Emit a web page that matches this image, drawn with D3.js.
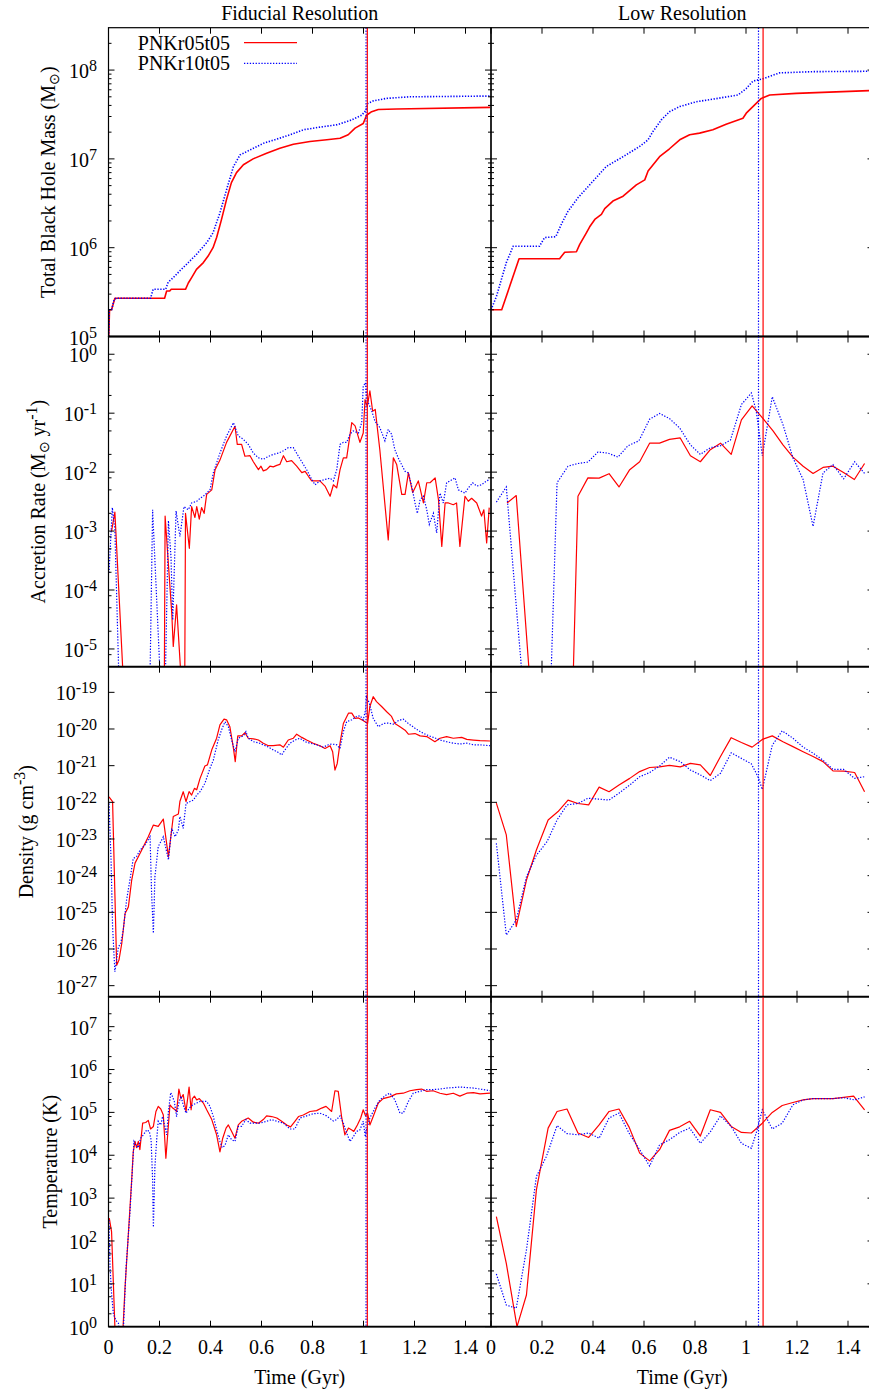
<!DOCTYPE html>
<html><head><meta charset="utf-8">
<script src="https://cdn.jsdelivr.net/npm/d3@7"></script>
<style>
body{margin:0;background:#fff}
svg{display:block}
text{font-family:"Liberation Serif","Times New Roman",Times,serif;fill:#000}
</style>
</head><body>
<svg id="chart" width="869" height="1395"></svg>
<script>
// ---------------- DATA ----------------
const columnTitles = ["Fiducial Resolution", "Low Resolution"];
const seriesNames = ["PNKr05t05", "PNKr10t05"];
const xTicks = [0, 0.2, 0.4, 0.6, 0.8, 1.0, 1.2, 1.4];
const xTickLabels = ["0", "0.2", "0.4", "0.6", "0.8", "1", "1.2", "1.4"];
const xLabel = "Time (Gyr)";

const massTicks = [1e5, 1e6, 1e7, 1e8];
const accTicks = [1e-5, 1e-4, 1e-3, 1e-2, 1e-1, 1e0];
const rhoTicks = [1e-27, 1e-26, 1e-25, 1e-24, 1e-23, 1e-22, 1e-21, 1e-20, 1e-19];
const tempTicks = [1e0, 1e1, 1e2, 1e3, 1e4, 1e5, 1e6, 1e7];

// merger times (vertical lines)
const fidMergerRed = 1.015, fidMergerBlue = 1.010;
const lowMergerRed = 1.067, lowMergerBlue = 1.049;

// Total black hole mass
const fidMassRed = [[0.001,1e5],[0.004,2.0e5],[0.012,2.0e5],[0.025,2.7e5],[0.22,2.7e5],[0.228,3.25e5],[0.24,3.25e5],[0.246,3.4e5],[0.302,3.4e5],[0.313,4.0e5],[0.326,4.6e5],[0.345,5.7e5],[0.372,6.8e5],[0.39,8.0e5],[0.41,1.0e6],[0.424,1.3e6],[0.443,2.07e6],[0.463,3.5e6],[0.482,5.4e6],[0.502,7.0e6],[0.529,8.6e6],[0.567,1.0e7],[0.62,1.16e7],[0.672,1.32e7],[0.725,1.46e7],[0.79,1.57e7],[0.856,1.64e7],[0.908,1.71e7],[0.94,1.87e7],[0.967,2.22e7],[0.999,2.5e7],[1.012,3.1e7],[1.032,3.4e7],[1.058,3.6e7],[1.13,3.65e7],[1.496,3.8e7]];
const fidMassBlue = [[0.001,1e5],[0.003,2.0e5],[0.012,2.0e5],[0.022,2.6e5],[0.03,2.7e5],[0.165,2.7e5],[0.175,3.4e5],[0.224,3.4e5],[0.234,4.1e5],[0.254,4.6e5],[0.28,5.5e5],[0.306,6.5e5],[0.345,8.4e5],[0.385,1.14e6],[0.41,1.47e6],[0.437,2.47e6],[0.463,4.5e6],[0.49,8.2e6],[0.516,1.11e7],[0.555,1.26e7],[0.608,1.5e7],[0.66,1.67e7],[0.712,1.87e7],[0.765,2.13e7],[0.83,2.28e7],[0.895,2.42e7],[0.947,2.7e7],[0.993,3.1e7],[1.01,3.55e7],[1.016,4.2e7],[1.039,4.5e7],[1.09,4.8e7],[1.18,5.0e7],[1.496,5.1e7]];
const lowMassRed = [[0,2e5],[0.042,2e5],[0.11,7.5e5],[0.269,7.5e5],[0.289,8.9e5],[0.335,9e5],[0.348,1.09e6],[0.374,1.47e6],[0.387,1.72e6],[0.407,2.08e6],[0.433,2.37e6],[0.446,2.75e6],[0.478,3.35e6],[0.518,3.8e6],[0.57,5.1e6],[0.603,5.8e6],[0.616,7.3e6],[0.661,1.06e7],[0.7,1.3e7],[0.74,1.64e7],[0.779,1.87e7],[0.818,1.95e7],[0.87,2.13e7],[0.922,2.46e7],[0.988,2.87e7],[1.001,3.27e7],[1.027,3.88e7],[1.06,4.8e7],[1.093,5.25e7],[1.197,5.47e7],[1.5,5.9e7]];
const lowMassBlue = [[0,2e5],[0.021,2.8e5],[0.06,6.8e5],[0.087,1.04e6],[0.19,1.04e6],[0.21,1.3e6],[0.254,1.33e6],[0.277,1.87e6],[0.302,2.57e6],[0.341,3.65e6],[0.387,5.1e6],[0.452,8.2e6],[0.518,1.06e7],[0.583,1.38e7],[0.616,1.64e7],[0.635,2.03e7],[0.668,2.75e7],[0.7,3.4e7],[0.74,3.88e7],[0.805,4.4e7],[0.87,4.7e7],[0.969,5.25e7],[1.001,6.2e7],[1.027,7.5e7],[1.067,8.0e7],[1.132,9.3e7],[1.263,9.6e7],[1.5,9.7e7]];

// Accretion rate
const fidAccRed = [[0.012,1.0e-3],[0.025,2.1e-3],[0.058,3e-6],[0.219,3e-6],[0.222,1.8e-3],[0.248,4.1e-5],[0.254,1.1e-5],[0.267,5.6e-5],[0.285,3e-6],[0.299,3e-6],[0.302,2.0e-3],[0.317,5.1e-4],[0.326,2.6e-3],[0.339,1.7e-3],[0.346,2.6e-3],[0.356,1.6e-3],[0.365,2.5e-3],[0.375,2.0e-3],[0.385,4.2e-3],[0.405,5.0e-3],[0.418,1.1e-2],[0.437,1.6e-2],[0.463,3.2e-2],[0.496,6.0e-2],[0.505,2.95e-2],[0.522,2.95e-2],[0.535,1.86e-2],[0.555,1.9e-2],[0.568,1.5e-2],[0.588,1.1e-2],[0.598,1.26e-2],[0.607,1.05e-2],[0.62,1.1e-2],[0.633,1.26e-2],[0.646,1.23e-2],[0.66,1.3e-2],[0.672,1.35e-2],[0.686,1.9e-2],[0.699,1.5e-2],[0.718,1.57e-2],[0.738,1.26e-2],[0.758,9.8e-3],[0.771,1.03e-2],[0.784,8.5e-3],[0.797,7.1e-3],[0.816,7.1e-3],[0.829,7.1e-3],[0.849,5.8e-3],[0.869,3.9e-3],[0.882,6.1e-3],[0.895,5.4e-3],[0.908,1.1e-2],[0.921,1.75e-2],[0.934,1.75e-2],[0.954,6.9e-2],[0.967,6.1e-2],[0.986,3.2e-2],[0.999,4.6e-2],[1.006,1.7e-1],[1.015,1.3e-1],[1.025,2.4e-1],[1.036,1.08e-1],[1.046,1.16e-1],[1.064,2.4e-2],[1.097,7.1e-4],[1.117,1.75e-2],[1.13,1.35e-2],[1.15,4.2e-3],[1.163,4.2e-3],[1.176,9.7e-3],[1.193,4.5e-3],[1.215,7.1e-3],[1.235,3.0e-3],[1.248,6.6e-3],[1.261,6.6e-3],[1.281,8.0e-3],[1.294,3.4e-3],[1.307,5.5e-4],[1.32,3.0e-3],[1.333,3.0e-3],[1.352,2.8e-3],[1.365,3.0e-3],[1.378,5.5e-4],[1.398,3.9e-3],[1.411,3.2e-3],[1.424,3.6e-3],[1.444,3.0e-3],[1.463,1.8e-3],[1.472,2.3e-3],[1.483,6.3e-4],[1.493,2.5e-3]];
const fidAccBlue = [[0.002,1.95e-4],[0.015,2.5e-3],[0.025,1.05e-3],[0.042,2e-6],[0.162,2e-6],[0.173,2.3e-3],[0.205,2e-6],[0.222,2e-6],[0.235,1.5e-3],[0.245,3.7e-4],[0.252,3.1e-5],[0.265,2.2e-3],[0.28,8.1e-4],[0.296,2.6e-3],[0.313,2.3e-3],[0.326,3.0e-3],[0.346,3.2e-3],[0.359,3.6e-3],[0.372,3.9e-3],[0.385,4.4e-3],[0.398,5.0e-3],[0.411,9.7e-3],[0.437,2.1e-2],[0.463,4.1e-2],[0.49,6.9e-2],[0.509,4.1e-2],[0.529,3.6e-2],[0.548,2.95e-2],[0.568,2.1e-2],[0.588,1.75e-2],[0.607,1.65e-2],[0.627,1.85e-2],[0.646,2.0e-2],[0.666,2.1e-2],[0.686,2.3e-2],[0.705,2.6e-2],[0.725,2.6e-2],[0.745,1.85e-2],[0.758,1.5e-2],[0.777,1.1e-2],[0.797,7.5e-3],[0.81,6.1e-3],[0.829,7.1e-3],[0.849,7.5e-3],[0.869,7.9e-3],[0.882,7.1e-3],[0.895,1.1e-2],[0.908,2.95e-2],[0.921,3.2e-2],[0.934,3.2e-2],[0.947,4.4e-2],[0.96,5.0e-2],[0.98,4.6e-2],[0.993,6.9e-2],[0.999,2.9e-1],[1.008,3.3e-1],[1.012,1.95e-1],[1.019,1.5e-1],[1.032,1.1e-1],[1.045,7.3e-2],[1.064,5.7e-2],[1.084,3.4e-2],[1.097,5.3e-2],[1.11,4.4e-2],[1.123,2.4e-2],[1.136,1.75e-2],[1.149,1.35e-2],[1.163,1.03e-2],[1.176,9.7e-3],[1.189,5.8e-3],[1.202,3.0e-3],[1.211,2.0e-3],[1.222,3.4e-3],[1.235,3.9e-3],[1.248,2.3e-3],[1.258,1.3e-3],[1.274,2.0e-3],[1.287,9.3e-4],[1.3,4.4e-3],[1.313,3.0e-3],[1.326,6.6e-3],[1.339,7.1e-3],[1.359,8.0e-3],[1.372,5.0e-3],[1.385,4.7e-3],[1.398,4.4e-3],[1.411,5.4e-3],[1.428,6.6e-3],[1.444,5.8e-3],[1.463,6.1e-3],[1.483,7.1e-3],[1.496,7.5e-3]];
const lowAccRed = [[0.063,3.0e-3],[0.099,4.0e-3],[0.152,3e-6],[0.322,3e-6],[0.341,3.9e-3],[0.38,8.0e-3],[0.424,7.9e-3],[0.463,9.4e-3],[0.502,5.6e-3],[0.544,1.1e-2],[0.583,1.5e-2],[0.622,3.1e-2],[0.661,3.1e-2],[0.7,3.6e-2],[0.742,3.8e-2],[0.782,1.9e-2],[0.821,1.5e-2],[0.86,2.4e-2],[0.9,3.1e-2],[0.942,2.0e-2],[0.982,7.7e-2],[1.024,1.33e-1],[1.067,8.1e-2],[1.106,5.0e-2],[1.145,2.9e-2],[1.184,1.8e-2],[1.224,1.26e-2],[1.263,9.5e-3],[1.302,1.2e-2],[1.341,1.26e-2],[1.384,9.8e-3],[1.425,7.5e-3],[1.465,1.4e-2]];
const lowAccBlue = [[0.021,3.1e-3],[0.06,5.6e-3],[0.122,3.5e-6],[0.235,3e-6],[0.259,6.6e-3],[0.302,1.26e-2],[0.341,1.4e-2],[0.38,1.48e-2],[0.42,2.2e-2],[0.459,2.1e-2],[0.498,1.8e-2],[0.537,2.8e-2],[0.58,3.4e-2],[0.622,7.9e-2],[0.661,9.9e-2],[0.7,8.1e-2],[0.74,5.6e-2],[0.782,2.9e-2],[0.821,2.0e-2],[0.86,2.6e-2],[0.9,2.8e-2],[0.939,3.5e-2],[0.982,1.4e-1],[1.021,2.2e-1],[1.04,1.1e-1],[1.064,1.9e-2],[1.103,1.9e-1],[1.145,6.4e-2],[1.184,1.75e-2],[1.224,7.5e-3],[1.263,1.2e-3],[1.302,9.7e-3],[1.341,1.34e-2],[1.383,7.7e-3],[1.426,1.5e-2],[1.465,9.5e-3]];

// Density
const fidRhoRed = [[0.002,1.41e-22],[0.016,1.05e-22],[0.032,3.6e-27],[0.041,5.0e-27],[0.052,1.41e-26],[0.065,9.3e-26],[0.078,1.41e-25],[0.091,7.6e-25],[0.104,2.2e-24],[0.117,3.3e-24],[0.137,6.2e-24],[0.156,1.15e-23],[0.176,2.4e-23],[0.195,2.2e-23],[0.215,3.5e-23],[0.235,3.3e-24],[0.254,4.1e-23],[0.274,4.8e-23],[0.28,1.05e-22],[0.293,1.95e-22],[0.304,1.05e-22],[0.316,1.95e-22],[0.326,1.58e-22],[0.337,2.4e-22],[0.346,2.2e-22],[0.359,4.5e-22],[0.378,9.8e-22],[0.388,1.05e-21],[0.405,2.7e-21],[0.424,5.6e-21],[0.437,1.29e-20],[0.453,1.86e-20],[0.463,1.78e-20],[0.476,1.15e-20],[0.49,2.95e-21],[0.497,1.29e-21],[0.507,6.5e-21],[0.522,6.5e-21],[0.535,7.9e-21],[0.548,5.6e-21],[0.568,5.4e-21],[0.588,5.0e-21],[0.607,4.1e-21],[0.627,3.5e-21],[0.646,3.5e-21],[0.672,3.7e-21],[0.686,3.2e-21],[0.705,5.0e-21],[0.725,5.6e-21],[0.738,7.2e-21],[0.758,5.9e-21],[0.777,5.0e-21],[0.803,4.1e-21],[0.829,3.5e-21],[0.849,2.95e-21],[0.869,3.5e-21],[0.879,2.4e-21],[0.888,7.6e-22],[0.897,1.15e-21],[0.908,4.1e-21],[0.921,1.41e-20],[0.941,2.7e-20],[0.954,2.7e-20],[0.967,1.95e-20],[0.98,2.0e-20],[0.993,1.78e-20],[1.006,1.58e-20],[1.016,1.41e-20],[1.025,4.1e-20],[1.038,7.6e-20],[1.051,5.6e-20],[1.071,4.1e-20],[1.091,2.95e-20],[1.11,2.2e-20],[1.123,1.41e-20],[1.143,1.15e-20],[1.163,9.3e-21],[1.176,7.2e-21],[1.202,7.5e-21],[1.222,6.5e-21],[1.248,6.2e-21],[1.28,4.5e-21],[1.3,5.6e-21],[1.326,6.2e-21],[1.352,5.6e-21],[1.385,5.9e-21],[1.405,5.2e-21],[1.431,5.0e-21],[1.457,4.8e-21],[1.496,4.7e-21]];
const fidRhoBlue = [[0.002,9.3e-23],[0.01,2.7e-24],[0.016,4.1e-26],[0.025,2.4e-27],[0.039,1.15e-26],[0.048,1.41e-26],[0.058,3.3e-26],[0.071,2.2e-25],[0.084,7.6e-25],[0.097,2.95e-24],[0.11,3.3e-24],[0.124,5.0e-24],[0.143,6.9e-24],[0.163,1.15e-23],[0.169,3.3e-25],[0.176,2.7e-26],[0.182,9.3e-25],[0.195,6.2e-24],[0.215,1.15e-23],[0.235,2.7e-24],[0.248,1.95e-23],[0.261,1.15e-23],[0.274,1.78e-23],[0.28,4.1e-23],[0.293,1.95e-23],[0.304,9.3e-23],[0.32,1.05e-22],[0.333,1.15e-22],[0.346,1.58e-22],[0.359,1.95e-22],[0.378,3.3e-22],[0.398,8.5e-22],[0.411,1.41e-21],[0.43,5.0e-21],[0.443,9.3e-21],[0.457,1.58e-20],[0.47,1.15e-20],[0.483,5.0e-21],[0.496,2.4e-21],[0.509,5.6e-21],[0.529,6.5e-21],[0.539,8.5e-21],[0.548,5.6e-21],[0.568,4.5e-21],[0.588,4.2e-21],[0.607,3.7e-21],[0.627,3.2e-21],[0.646,2.7e-21],[0.666,2.3e-21],[0.679,1.95e-21],[0.692,2.7e-21],[0.712,4.1e-21],[0.731,5.0e-21],[0.751,5.6e-21],[0.771,4.5e-21],[0.79,4.1e-21],[0.816,3.7e-21],[0.842,3.2e-21],[0.862,3.7e-21],[0.875,3.9e-21],[0.895,3.7e-21],[0.908,2.95e-21],[0.921,8.5e-21],[0.934,1.58e-20],[0.954,1.78e-20],[0.973,2.2e-20],[0.986,2.3e-20],[0.999,1.78e-20],[1.008,3.3e-20],[1.012,7.6e-20],[1.023,5.0e-20],[1.038,1.95e-20],[1.058,1.15e-20],[1.078,1.41e-20],[1.097,1.45e-20],[1.117,1.35e-20],[1.137,1.7e-20],[1.156,1.86e-20],[1.176,1.41e-20],[1.202,1.05e-20],[1.222,8.5e-21],[1.248,6.9e-21],[1.274,5.9e-21],[1.3,5.0e-21],[1.326,4.5e-21],[1.352,4.1e-21],[1.378,3.9e-21],[1.405,4.1e-21],[1.431,3.7e-21],[1.457,3.7e-21],[1.496,3.5e-21]];
const lowRhoRed = [[0.021,9.5e-23],[0.06,1.29e-23],[0.099,4.1e-26],[0.139,7.6e-25],[0.178,5.0e-24],[0.224,3.3e-23],[0.263,5.6e-23],[0.302,1.15e-22],[0.341,9.3e-23],[0.383,8.5e-23],[0.424,2.6e-22],[0.463,1.95e-22],[0.502,2.95e-22],[0.544,4.5e-22],[0.583,6.9e-22],[0.622,8.9e-22],[0.661,9.3e-22],[0.7,1.02e-21],[0.742,9.3e-22],[0.782,1.15e-21],[0.821,1.05e-21],[0.86,5.4e-22],[0.9,1.78e-21],[0.942,5.8e-21],[0.982,4.3e-21],[1.024,3.2e-21],[1.064,5.2e-21],[1.103,6.5e-21],[1.145,4.5e-21],[1.184,3.3e-21],[1.224,2.4e-21],[1.263,1.78e-21],[1.302,1.29e-21],[1.341,7.2e-22],[1.383,7.1e-22],[1.426,6.5e-22],[1.465,1.95e-22]];
const lowRhoBlue = [[0.021,7.6e-24],[0.06,2.4e-26],[0.099,6.2e-26],[0.139,9.3e-25],[0.178,3.6e-24],[0.22,8.5e-24],[0.259,3.3e-23],[0.298,8.5e-23],[0.341,9.3e-23],[0.38,1.29e-22],[0.42,1.23e-22],[0.463,1.15e-22],[0.502,1.78e-22],[0.544,2.95e-22],[0.583,5.0e-22],[0.622,6.5e-22],[0.661,9.8e-22],[0.7,1.7e-21],[0.742,1.29e-21],[0.782,7.6e-22],[0.821,5.6e-22],[0.86,3.9e-22],[0.9,6.2e-22],[0.942,2.24e-21],[0.982,1.58e-21],[1.021,1.12e-21],[1.047,5.0e-22],[1.064,2.24e-22],[1.103,3.6e-21],[1.142,8.9e-21],[1.184,5.6e-21],[1.224,3.2e-21],[1.263,2.2e-21],[1.302,1.41e-21],[1.341,7.9e-22],[1.383,7.9e-22],[1.426,4.5e-22],[1.465,5.0e-22]];

// Temperature
const fidTempRed = [[0.003,340],[0.012,166],[0.03,0.14],[0.05,0.14],[0.065,8.5],[0.078,150],[0.091,2700],[0.097,1.2e4],[0.104,2.1e4],[0.11,1.5e4],[0.117,2.1e4],[0.123,1.35e4],[0.134,5.6e4],[0.146,5.8e4],[0.156,6.5e4],[0.165,4.1e4],[0.176,4.7e4],[0.186,1.05e5],[0.195,1.38e5],[0.205,1.2e5],[0.215,8.7e4],[0.225,8.5e3],[0.235,5.1e4],[0.241,1.5e5],[0.252,1.26e5],[0.261,1.15e5],[0.267,1.05e5],[0.276,3.5e5],[0.284,2.1e5],[0.293,2.6e5],[0.304,1.05e5],[0.316,3.9e5],[0.324,1.15e5],[0.329,2.1e5],[0.337,2.4e5],[0.346,1.95e5],[0.356,2.1e5],[0.372,1.65e5],[0.385,1.15e5],[0.405,6.8e4],[0.424,3.0e4],[0.437,1.2e4],[0.448,2.5e4],[0.461,4.3e4],[0.47,5.1e4],[0.483,3.6e4],[0.496,2.5e4],[0.509,5.1e4],[0.522,6.2e4],[0.538,6.9e4],[0.548,7.4e4],[0.568,5.9e4],[0.588,5.6e4],[0.607,6.8e4],[0.62,8.3e4],[0.64,8.0e4],[0.66,7.4e4],[0.679,6.2e4],[0.699,5.1e4],[0.714,4.6e4],[0.731,6.2e4],[0.745,8.0e4],[0.764,8.7e4],[0.79,1.05e5],[0.816,1.1e5],[0.836,1.26e5],[0.853,1.38e5],[0.875,1.05e5],[0.888,3.2e5],[0.901,3.1e5],[0.914,8.0e4],[0.927,3.0e4],[0.941,4.3e4],[0.954,3.9e4],[0.962,3.6e4],[0.976,5.1e4],[0.989,7.4e4],[0.999,1.15e5],[1.008,8.3e4],[1.016,9.6e4],[1.025,5.1e4],[1.038,8.0e4],[1.058,1.65e5],[1.077,2.1e5],[1.103,2.3e5],[1.129,2.7e5],[1.156,2.8e5],[1.182,3.2e5],[1.208,3.4e5],[1.228,3.5e5],[1.247,3.1e5],[1.273,3.2e5],[1.3,2.8e5],[1.326,2.6e5],[1.352,2.8e5],[1.378,2.4e5],[1.405,2.8e5],[1.431,2.9e5],[1.457,2.7e5],[1.496,2.8e5]];
const fidTempBlue = [[0.002,310],[0.006,25],[0.012,6],[0.019,2.0],[0.029,1.4],[0.039,1.2],[0.046,0.4],[0.056,0.4],[0.069,25],[0.084,450],[0.095,6500],[0.1,2.1e4],[0.108,1.7e4],[0.117,1.5e4],[0.126,2.5e4],[0.137,3.0e4],[0.15,3.9e4],[0.16,3.6e4],[0.167,2.3e4],[0.173,2700],[0.176,210],[0.182,5500],[0.189,2.3e4],[0.195,6.2e4],[0.205,5.1e4],[0.212,8.0e4],[0.221,4.7e4],[0.228,3.0e4],[0.235,1.05e5],[0.244,2.9e5],[0.25,2.4e5],[0.258,1.8e5],[0.267,8.0e4],[0.274,1.5e5],[0.284,2.4e5],[0.293,1.5e5],[0.304,9.6e4],[0.317,1.26e5],[0.33,1.5e5],[0.346,1.65e5],[0.359,1.8e5],[0.374,1.8e5],[0.385,1.8e5],[0.398,1.38e5],[0.411,8.0e4],[0.424,3.9e4],[0.437,2.1e4],[0.446,1.5e4],[0.457,1.7e4],[0.47,3.0e4],[0.483,2.3e4],[0.496,2.1e4],[0.509,4.7e4],[0.522,4.7e4],[0.538,6.8e4],[0.555,5.6e4],[0.574,5.6e4],[0.594,5.6e4],[0.62,6.2e4],[0.64,6.8e4],[0.66,6.2e4],[0.686,5.6e4],[0.712,4.1e4],[0.731,4.1e4],[0.751,7.4e4],[0.777,8.3e4],[0.803,9.3e4],[0.829,9.6e4],[0.855,8.3e4],[0.882,6.3e4],[0.895,6.8e4],[0.908,8.3e4],[0.921,5.6e4],[0.934,3.3e4],[0.947,2.1e4],[0.96,2.7e4],[0.973,3.6e4],[0.986,3.9e4],[0.999,6.2e4],[1.007,2.7e4],[1.012,3.9e4],[1.025,7.4e4],[1.045,1.26e5],[1.064,1.95e5],[1.091,2.6e5],[1.104,2.8e5],[1.123,1.95e5],[1.143,9.6e4],[1.156,9.6e4],[1.176,1.8e5],[1.195,2.8e5],[1.221,3.1e5],[1.247,3.4e5],[1.273,3.4e5],[1.3,3.5e5],[1.326,3.7e5],[1.352,3.8e5],[1.378,3.9e5],[1.405,3.8e5],[1.431,3.7e5],[1.457,3.5e5],[1.496,3.2e5]];
const lowTempRed = [[0.021,370],[0.06,30],[0.102,1.0],[0.139,5.5],[0.178,1550],[0.224,4.3e4],[0.259,1.05e5],[0.298,1.2e5],[0.341,3.3e4],[0.383,2.6e4],[0.424,5.1e4],[0.463,1.05e5],[0.502,1.2e5],[0.541,4.6e4],[0.583,1.12e4],[0.622,7.4e3],[0.661,1.35e4],[0.7,3.8e4],[0.74,4.6e4],[0.779,6.2e4],[0.821,2.8e4],[0.86,1.15e5],[0.9,1.0e5],[0.942,4.7e4],[0.982,3.4e4],[1.021,3.3e4],[1.064,5.6e4],[1.103,1.0e5],[1.142,1.45e5],[1.184,1.7e5],[1.224,1.95e5],[1.263,2.1e5],[1.302,2.1e5],[1.341,2.1e5],[1.383,2.24e5],[1.422,2.4e5],[1.465,1.15e5]];
const lowTempBlue = [[0.021,17],[0.06,3.2],[0.099,2.7],[0.139,62],[0.178,3200],[0.217,9300],[0.259,4.9e4],[0.298,3.2e4],[0.341,3.0e4],[0.383,3.3e4],[0.424,2.5e4],[0.463,7.4e4],[0.502,9.6e4],[0.541,3.3e4],[0.583,1.35e4],[0.622,5.6e3],[0.661,1.74e4],[0.7,2.3e4],[0.74,3.4e4],[0.779,4.3e4],[0.821,1.9e4],[0.86,3.5e4],[0.9,8.3e4],[0.942,4.7e4],[0.982,1.9e4],[1.021,1.45e4],[1.04,3.3e4],[1.064,1.15e5],[1.103,4.1e4],[1.142,5.6e4],[1.184,1.5e5],[1.224,1.95e5],[1.263,2.1e5],[1.302,2.1e5],[1.341,2.1e5],[1.383,2.2e5],[1.426,1.95e5],[1.465,2.3e5]];

// ---------------- LAYOUT ----------------
const svg = d3.select("#chart");
const colX = [108.5, 491];
const panelW = 382.5;
const rowBounds = [[27.7, 336.5], [336.5, 666.7], [666.7, 996.7], [996.7, 1326.7]];
const RED = "#ff0000", BLUE = "#0000ff";
const FONT = 20, SUP = 16;

const rows = [
  {domain: [1e5, 3e8], ticks: massTicks, minor: [2,3,4,5,6,7,8,9], lw: 1.6,
   data: [[fidMassRed, fidMassBlue], [lowMassRed, lowMassBlue]]},
  {domain: [5e-6, 2], ticks: accTicks, minor: [2,5,8], lw: 1.2,
   data: [[fidAccRed, fidAccBlue], [lowAccRed, lowAccBlue]]},
  {domain: [5e-28, 5e-19], ticks: rhoTicks, minor: [], lw: 1.2,
   data: [[fidRhoRed, fidRhoBlue], [lowRhoRed, lowRhoBlue]]},
  {domain: [1, 5e7], ticks: tempTicks, minor: [2,5,8], lw: 1.2,
   data: [[fidTempRed, fidTempBlue], [lowTempRed, lowTempBlue]]}
];
const mergers = [[fidMergerRed, fidMergerBlue], [lowMergerRed, lowMergerBlue]];

const defs = svg.append("defs");

rows.forEach((row, r) => {
  const [y0, y1] = rowBounds[r];
  const y = d3.scaleLog().domain(row.domain).range([y1, y0]);
  const minorVals = [];
  const kLo = Math.floor(Math.log10(row.domain[0])), kHi = Math.ceil(Math.log10(row.domain[1]));
  for (let k = kLo; k <= kHi; k++) row.minor.forEach(m => {
    const v = m * Math.pow(10, k);
    if (v > row.domain[0] && v < row.domain[1]) minorVals.push(v);
  });

  [0, 1].forEach(c => {
    const x0 = colX[c];
    const x = d3.scaleLinear().domain([0, 1.5]).range([x0, x0 + panelW]);
    const id = `clip${r}${c}`;
    defs.append("clipPath").attr("id", id).append("rect")
      .attr("x", x0).attr("y", y0).attr("width", panelW).attr("height", y1 - y0);
    const g = svg.append("g");
    const pg = g.append("g").attr("clip-path", `url(#${id})`);

    const line = d3.line().x(d => x(d[0])).y(d => y(d[1]));
    const [redData, blueData] = row.data[c];
    pg.append("path").datum(redData).attr("d", line)
      .attr("fill", "none").attr("stroke", RED).attr("stroke-width", row.lw).attr("stroke-linejoin", "round");
    pg.append("path").datum(blueData).attr("d", line)
      .attr("fill", "none").attr("stroke", BLUE).attr("stroke-width", row.lw)
      .attr("stroke-dasharray", "1.3,1.6");

    const [mr, mb] = mergers[c];
    pg.append("line").attr("x1", x(mb)).attr("x2", x(mb)).attr("y1", y0).attr("y2", y1)
      .attr("stroke", BLUE).attr("stroke-width", 1.2).attr("stroke-dasharray", "1.3,1.6");
    pg.append("line").attr("x1", x(mr)).attr("x2", x(mr)).attr("y1", y0).attr("y2", y1)
      .attr("stroke", RED).attr("stroke-width", 1.2);

    const tg = g.append("g").attr("stroke", "#000").attr("stroke-width", 1);
    xTicks.forEach(t => {
      const xx = x(t);
      tg.append("line").attr("x1", xx).attr("x2", xx).attr("y1", y1).attr("y2", y1 - 6);
      tg.append("line").attr("x1", xx).attr("x2", xx).attr("y1", y0).attr("y2", y0 + 6);
    });
    row.ticks.forEach(v => {
      const yy = y(v);
      tg.append("line").attr("x1", x0).attr("x2", x0 + 6).attr("y1", yy).attr("y2", yy);
      tg.append("line").attr("x1", x0 + panelW).attr("x2", x0 + panelW - 6).attr("y1", yy).attr("y2", yy);
    });
    minorVals.forEach(v => {
      const yy = y(v);
      tg.append("line").attr("x1", x0).attr("x2", x0 + 3).attr("y1", yy).attr("y2", yy);
      tg.append("line").attr("x1", x0 + panelW).attr("x2", x0 + panelW - 3).attr("y1", yy).attr("y2", yy);
    });

    g.append("rect").attr("x", x0).attr("y", y0).attr("width", panelW).attr("height", y1 - y0)
      .attr("fill", "none").attr("stroke", "#000").attr("stroke-width", 1.2);
    g.append("line").attr("x1", x0).attr("x2", x0 + panelW).attr("y1", y1).attr("y2", y1)
      .attr("stroke", "#000").attr("stroke-width", 1.8);

    if (c === 0) {
      row.ticks.forEach(v => {
        const e = Math.round(Math.log10(v));
        const t = svg.append("text").attr("x", x0 - 11.5).attr("y", y(v) + 8)
          .attr("text-anchor", "end").attr("font-size", FONT);
        t.append("tspan").text("10");
        t.append("tspan").attr("dy", -7).attr("font-size", SUP).text(String(e));
      });
    }
    if (r === rows.length - 1) {
      xTicks.forEach((tv, i) => {
        svg.append("text").attr("x", x(tv)).attr("y", 1354).attr("text-anchor", "middle")
          .attr("font-size", FONT).text(xTickLabels[i]);
      });
      svg.append("text").attr("x", x0 + panelW / 2).attr("y", 1384).attr("text-anchor", "middle")
        .attr("font-size", FONT).text(xLabel);
    }
    if (r === 0) {
      svg.append("text").attr("x", x0 + panelW / 2).attr("y", 19.5).attr("text-anchor", "middle")
        .attr("font-size", FONT).text(columnTitles[c]);
    }
  });
});

const yTitleSpecs = [
  {x: 54.5, parts: [["Total Black Hole Mass (M", 0, FONT], ["\u2299", 4, 14], [")", -4, FONT]]},
  {x: 45, parts: [["Accretion Rate (M", 0, FONT], ["\u2299", 4, 14], [" yr", -4, FONT], ["-1", -8, SUP], [")", 8, FONT]]},
  {x: 33, parts: [["Density (g cm", 0, FONT], ["-3", -8, SUP], [")", 8, FONT]]},
  {x: 56.7, parts: [["Temperature (K)", 0, FONT]]}
];
yTitleSpecs.forEach((s, r) => {
  const cy = (rowBounds[r][0] + rowBounds[r][1]) / 2;
  const t = svg.append("text").attr("transform", `translate(${s.x},${cy}) rotate(-90)`)
    .attr("text-anchor", "middle").attr("font-size", FONT);
  s.parts.forEach(([txt, dy, fs]) => {
    t.append("tspan").attr("dy", dy).attr("font-size", fs).text(txt);
  });
});

const legend = svg.append("g");
[[seriesNames[0], RED, null, 50, 42.7], [seriesNames[1], BLUE, "1.3,1.6", 70, 63.3]].forEach(([name, col, dash, by, ly]) => {
  legend.append("text").attr("x", 230).attr("y", by).attr("text-anchor", "end")
    .attr("font-size", FONT).text(name);
  const l = legend.append("line").attr("x1", 244).attr("x2", 297).attr("y1", ly).attr("y2", ly)
    .attr("stroke", col).attr("stroke-width", 1.2);
  if (dash) l.attr("stroke-dasharray", dash);
});
</script>
</body></html>
